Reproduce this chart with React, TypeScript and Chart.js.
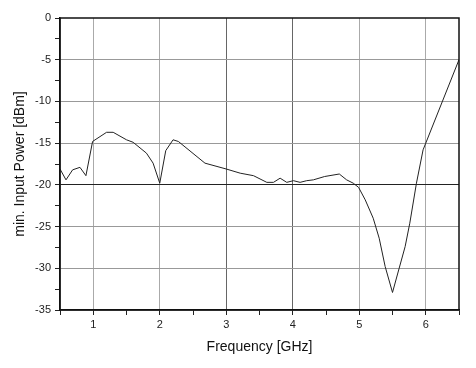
import React, { useEffect, useRef } from "react";
import { Chart, registerables } from "chart.js";

Chart.register(...registerables);

const freqGHz = [
  0.5, 0.59, 0.69, 0.8, 0.89, 0.99, 1.2, 1.3, 1.5, 1.6, 1.8, 1.9, 2.0, 2.09, 2.2, 2.28,
  2.68, 3.0, 3.21, 3.41, 3.61, 3.71, 3.81, 3.91, 4.01, 4.11, 4.21, 4.31, 4.48, 4.7,
  4.81, 4.91, 4.99, 5.09, 5.21, 5.3, 5.39, 5.5, 5.6, 5.69, 5.76, 5.86, 5.96, 6.0, 6.5,
];
const minInputPower = [
  -18.1, -19.4, -18.2, -17.9, -18.9, -14.8, -13.7, -13.7, -14.6, -14.9, -16.2, -17.4, -19.8,
  -15.9, -14.6, -14.8, -17.4, -18.1, -18.6, -18.9, -19.7, -19.7, -19.2, -19.7, -19.5, -19.7,
  -19.5, -19.4, -19.0, -18.7, -19.4, -19.8, -20.3, -21.8, -24.0, -26.4, -29.8, -32.9, -30.0,
  -27.4, -24.6, -19.8, -15.8, -15.0, -5.0,
];
const xLabels = [1, 2, 3, 4, 5, 6];
const yLabels = [0, -5, -10, -15, -20, -25, -30, -35];

const frame = {
  id: "frame",
  afterDraw(chart: any) {
    const { ctx, chartArea: a } = chart;
    ctx.save();
    ctx.strokeStyle = "#111";
    ctx.lineWidth = 1.5;
    ctx.strokeRect(a.left, a.top, a.right - a.left, a.bottom - a.top);
    ctx.restore();
  },
};

export default function App() {
  const ref = useRef<HTMLCanvasElement>(null);
  useEffect(() => {
    const font = "'Liberation Sans', Arial, sans-serif";
    const chart = new Chart(ref.current!, {
      type: "line",
      data: {
        datasets: [
          {
            data: freqGHz.map((x, i) => ({ x, y: minInputPower[i] })),
            borderColor: "#222",
            borderWidth: 1,
            pointRadius: 0,
            tension: 0,
            fill: false,
          },
        ],
      },
      options: {
        animation: false,
        responsive: false,
        maintainAspectRatio: false,
        layout: { padding: { left: 0, right: 17, top: 18, bottom: 0 } },
        plugins: { legend: { display: false }, tooltip: { enabled: false } },
        scales: {
          x: {
            type: "linear",
            min: 0.5,
            max: 6.5,
            afterFit: (s: any) => {
              s.height = 58;
            },
            ticks: {
              stepSize: 0.5,
              color: "#222",
              font: { family: font, size: 11 },
              padding: 3,
              maxRotation: 0,
              autoSkip: false,
              callback: (v: any) => (xLabels.includes(Number(v)) ? String(v) : ""),
            },
            grid: {
              color: (c: any) => {
                const v = c.tick?.value;
                if (v === undefined || !xLabels.includes(v)) return "rgba(0,0,0,0)";
                return v === 3 || v === 4 ? "#666" : "#aaa";
              },
              tickColor: "#222",
              tickLength: 5,
              drawTicks: true,
            },
            border: { color: "#111", width: 1.5 },
            title: {
              display: true,
              text: "Frequency [GHz]",
              color: "#111",
              font: { family: font, size: 14 },
              padding: { top: 0, bottom: 12 },
            },
          },
          y: {
            type: "linear",
            min: -35,
            max: 0,
            afterFit: (s: any) => {
              s.width = 60;
            },
            ticks: {
              stepSize: 2.5,
              color: "#222",
              font: { family: font, size: 11 },
              padding: 4,
              autoSkip: false,
              callback: (v: any) => (yLabels.includes(Number(v)) ? String(v) : ""),
            },
            grid: {
              color: (c: any) => {
                const v = c.tick?.value;
                if (v === undefined || !yLabels.includes(v) || v === 0 || v === -35) return "rgba(0,0,0,0)";
                return v === -20 ? "#222" : "#999";
              },
              tickColor: "#222",
              tickLength: 5,
            },
            border: { color: "#111", width: 1.5 },
            title: {
              display: true,
              text: "min. Input Power [dBm]",
              color: "#111",
              font: { family: font, size: 14 },
              padding: { top: 12, bottom: 0 },
            },
          },
        },
      },
      plugins: [frame],
    });
    return () => chart.destroy();
  }, []);
  return (
    <div style={{ position: "absolute", left: 0, top: 0, width: 476, height: 368, background: "#fff" }}>
      <canvas ref={ref} width={476} height={368} style={{ display: "block" }} />
    </div>
  );
}
